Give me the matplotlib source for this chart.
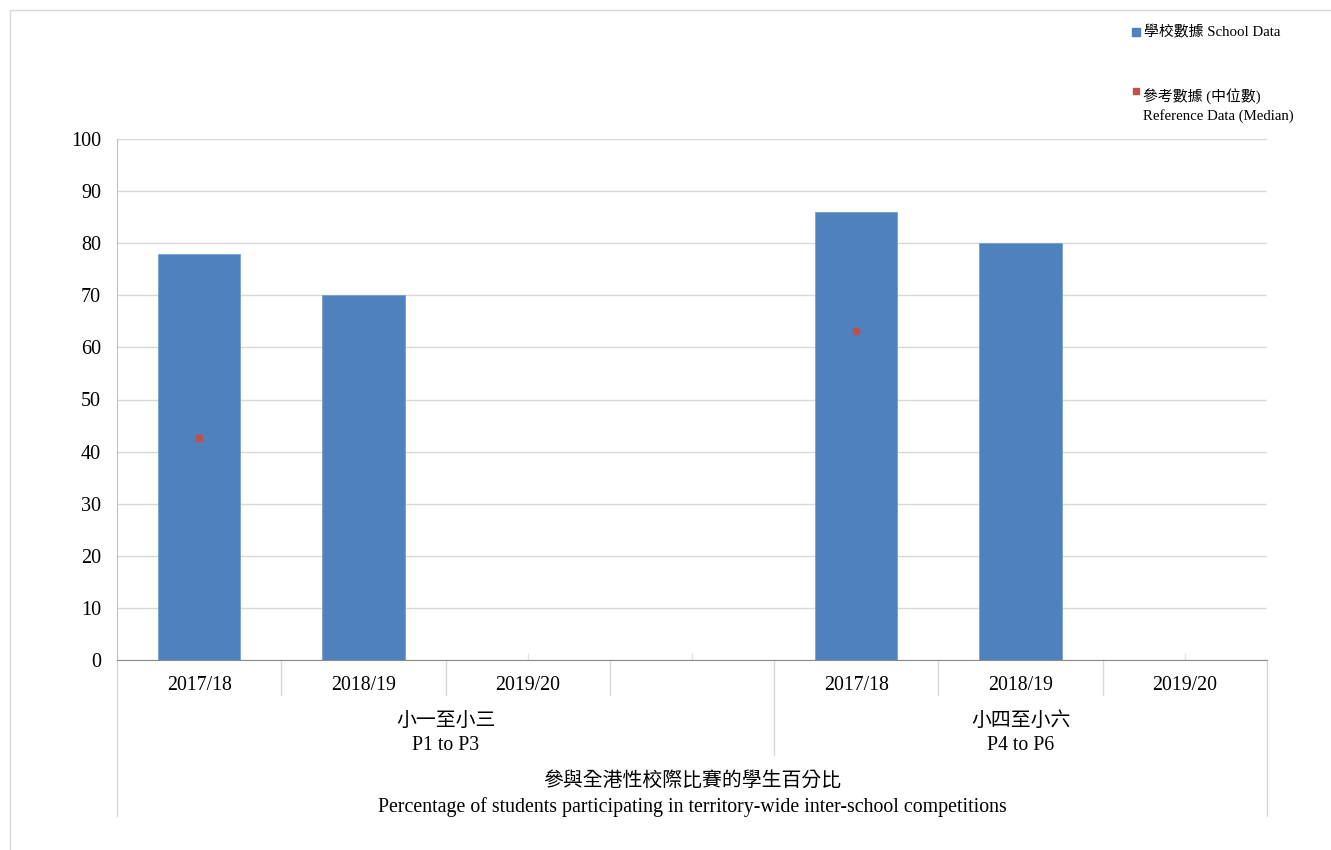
import matplotlib
matplotlib.use("Agg")
import matplotlib.pyplot as plt
import matplotlib.transforms as mtransforms
from matplotlib.patches import Rectangle
import numpy as np

FAM = ['Liberation Serif', 'Noto Sans CJK TC', 'DejaVu Sans']
plt.rcParams['font.family'] = FAM

categories = ['2017/18', '2018/19', '2019/20', '', '2017/18', '2018/19', '2019/20']
school_data = [78, 70, None, None, 86, 80, None]
median_data = [42.6, None, None, None, 63.1, None, None]
groups = [('小一至小三\nP1 to P3', 0, 4), ('小四至小六\nP4 to P6', 4, 7)]
yticks = [0, 10, 20, 30, 40, 50, 60, 70, 80, 90, 100]
title = '參與全港性校際比賽的學生百分比\nPercentage of students participating in territory-wide inter-school competitions'
legend_school = '學校數據 School Data'
legend_ref = '參考數據 (中位數)\nReference Data (Median)'

BLUE = '#4F81BD'
RED = '#C0504D'
GRID = '#D9D9D9'

W, H = 1331, 850
fig = plt.figure(figsize=(W / 100, H / 100), dpi=100)
ax = fig.add_axes([117 / W, 1 - 660 / H, (1267 - 117) / W, (660 - 139) / H])

x = np.arange(len(categories))
for xi, v in zip(x, school_data):
    if v is not None:
        ax.bar(xi, v, width=0.5, color=BLUE, edgecolor='#7A9ED0', linewidth=0.6, zorder=3)
for xi, v in zip(x, median_data):
    if v is not None:
        ax.plot(xi, v, marker='s', markersize=5, color=RED, linestyle='none', zorder=4)

ax.set_xlim(-0.5, len(categories) - 0.5)
ax.set_ylim(0, 100)
ax.set_yticks(yticks)
ax.set_yticklabels([str(t) for t in yticks], fontsize=14.5)
ax.yaxis.grid(True, color=GRID, linewidth=1, zorder=0)
ax.set_axisbelow(True)
ax.tick_params(axis='y', length=0, pad=11.5)
ax.set_xticks(x)
ax.set_xticklabels([''] * len(x))
ax.tick_params(axis='x', direction='in', length=5, color='#E3E3E3', width=1)

for s in ['top', 'right']:
    ax.spines[s].set_visible(False)
ax.spines['left'].set_color('#BFBFBF')
ax.spines['bottom'].set_color('#8C8C8C')
ax.spines['bottom'].set_zorder(5)

trans = mtransforms.blended_transform_factory(ax.transData, ax.transAxes)
def yf(py):
    return (660 - py) / (660 - 139)

FS = 14.3
# category labels
for xi, c in zip(x, categories):
    ax.text(xi, yf(686), c, transform=trans, ha='center', va='center', fontsize=FS)

# separators
short = [0.5, 1.5, 2.5, 4.5, 5.5]
for s in short:
    ax.plot([s, s], [0, yf(695)], transform=trans, color='#D9D9D9', lw=1, clip_on=False)
ax.plot([3.5, 3.5], [0, yf(755)], transform=trans, color='#D9D9D9', lw=1, clip_on=False)
for s in [-0.5, len(categories) - 0.5]:
    ax.plot([s, s], [0, yf(816)], transform=trans, color='#D9D9D9', lw=1, clip_on=False)

# group labels
for lab, a, b in groups:
    ax.text((a + b - 1) / 2, yf(733.5), lab, transform=trans, ha='center', va='center',
            fontsize=FS, linespacing=1.4)

# title
ax.text((len(categories) - 1) / 2, yf(794.5), title, transform=trans, ha='center', va='center',
        fontsize=FS, linespacing=1.4)

# legend
fig.patches.append(Rectangle((1132 / W, 1 - 36 / H), 8 / W, 8 / H, transform=fig.transFigure,
                             color=BLUE))
fig.text(1144 / W, 1 - 32 / H, legend_school, fontsize=10.7, va='center', ha='left')
fig.patches.append(Rectangle((1133 / W, 1 - 94 / H), 6 / W, 6 / H, transform=fig.transFigure,
                             color=RED))
fig.text(1143 / W, 1 - 105.5 / H, legend_ref, fontsize=10.7, va='center', ha='left', linespacing=1.38)

# outer border
fig.patches.append(Rectangle((10 / W, -0.01), 1.05, 1 - 10 / H + 0.01, transform=fig.transFigure,
                             fill=False, edgecolor='#D9D9D9', lw=1))

fig.savefig('out.png', dpi=100)
